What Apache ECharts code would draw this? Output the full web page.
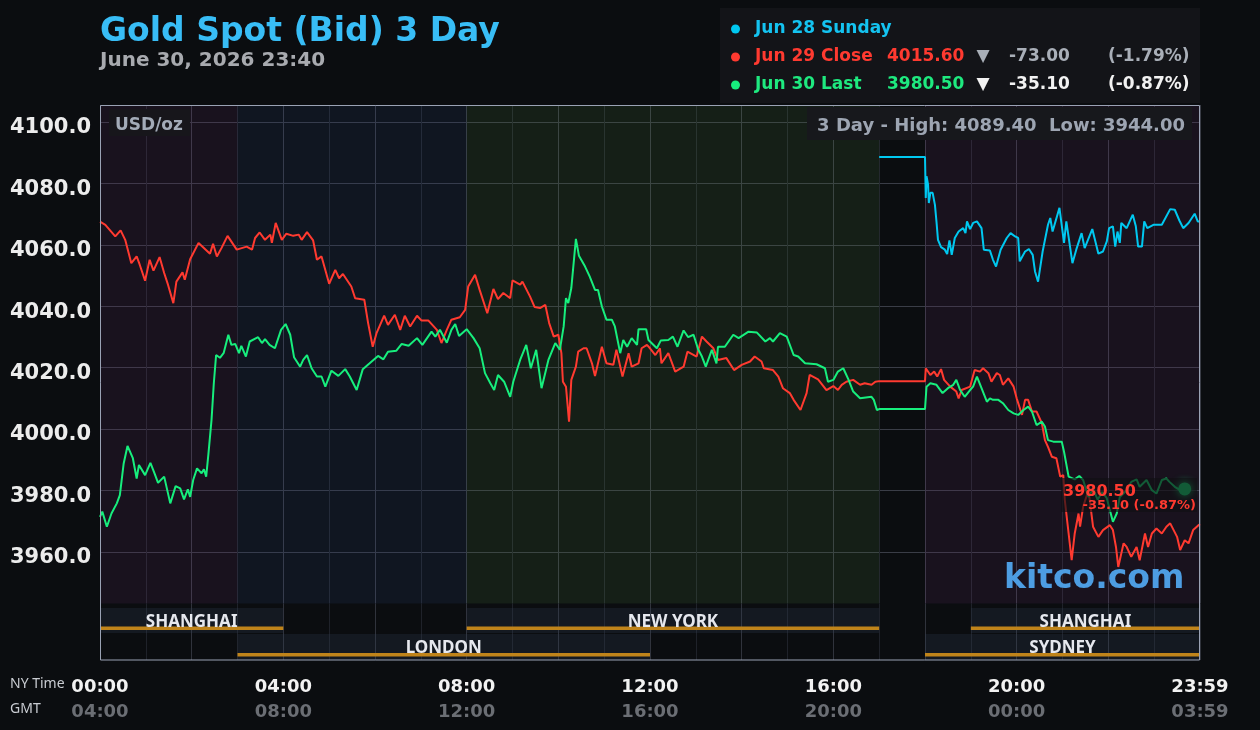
<!DOCTYPE html>
<html>
<head>
<meta charset="utf-8">
<title>Gold Spot (Bid) 3 Day</title>
<script src="https://cdn.jsdelivr.net/npm/echarts@6/dist/echarts.min.js"></script>
<style>
html, body { margin: 0; padding: 0; background: #0b0d10; }
#chart { width: 1260px; height: 730px; }
</style>
</head>
<body>
<div id="chart"></div>
<script>
// time = minutes after 00:00 NY time, price = USD/oz
var sunTime = [1020,1080,1081,1082,1084,1085,1087,1090,1093,1095,
  1097,1101,1106,1109,1112,1115,1119,1124,1130,1133,
  1135,1139,1143,1148,1154,1157,1165,1169,1173,1179,
  1187,1192,1198,1202,1204,1211,1216,1221,1224,1228,
  1234,1241,1244,1247,1256,1262,1265,1273,1278,1285,
  1289,1299,1307,1313,1318,1321,1326,1329,1332,1335,
  1337,1344,1352,1356,1359,1364,1367,1371,1379,1390,
  1401,1407,1413,1418,1425,1433,1437,1440];
var sunPrice = [4088.6,4088.6,4075.2,4082.3,4079.6,4073.6,4076.9,4076.9,4073.0,4067.6,
  4061.6,4059.2,4058.4,4057.0,4061.4,4056.7,4062.2,4064.3,4065.4,4063.8,
  4067.6,4065.1,4067.1,4067.6,4065.4,4058.4,4058.1,4055.1,4052.9,4058.4,
  4062.2,4063.8,4062.7,4062.2,4054.6,4057.8,4058.6,4056.7,4051.3,4048.0,
  4057.8,4066.5,4068.7,4064.3,4072.0,4060.6,4067.6,4054.0,4058.4,4063.8,
  4058.9,4065.1,4057.1,4057.8,4061.1,4065.4,4066.0,4059.4,4064.3,4060.6,
  4067.1,4065.4,4069.8,4066.0,4059.4,4059.4,4067.6,4065.4,4066.5,4066.5,
  4071.6,4071.4,4067.9,4065.4,4067.1,4070.1,4067.6,4067.6];

var closeTime = [0,7,20,27,33,41,48,52,59,65,
  70,78,84,89,96,100,108,111,118,129,
  144,148,153,159,167,179,192,199,203,209,
  216,223,225,230,238,244,253,260,264,271,
  279,284,290,300,308,313,318,329,334,346,
  351,357,362,372,377,386,393,399,406,415,
  421,430,441,447,454,460,471,478,482,491,
  497,507,515,521,528,537,540,550,553,563,
  569,576,583,588,594,600,604,606,610,614,
  617,623,626,633,637,644,648,657,663,672,
  676,684,692,696,705,709,716,720,727,733,
  735,744,753,764,769,781,788,794,803,809,
  820,830,840,851,857,866,869,881,888,894,
  903,908,917,925,929,940,951,960,966,971,
  977,986,995,1001,1010,1015,1020,1080,1081,1087,
  1092,1096,1101,1105,1113,1121,1124,1128,1139,1145,
  1152,1156,1163,1167,1174,1178,1182,1189,1196,1200,
  1207,1211,1215,1220,1226,1233,1237,1241,1246,1252,
  1257,1261,1263,1268,1272,1276,1281,1283,1287,1294,
  1300,1307,1313,1322,1326,1330,1333,1340,1344,1350,
  1357,1361,1368,1372,1377,1383,1390,1396,1401,1410,
  1414,1420,1425,1431,1438,1440];
var closePrice = [4067.5,4066.5,4062.7,4064.7,4061.6,4054.0,4056.2,4053.5,4048.3,4055.1,
  4051.6,4056.0,4050.8,4047.0,4041.0,4048.0,4051.0,4048.6,4055.3,4060.6,
  4057.1,4060.3,4056.2,4058.9,4062.9,4058.4,4059.4,4058.4,4062.2,4064.0,
  4061.6,4063.3,4060.6,4067.1,4061.6,4063.6,4062.9,4063.3,4061.6,4064.1,
  4061.4,4055.1,4056.2,4047.3,4051.8,4049.1,4050.5,4046.4,4042.6,4042.1,
  4034.5,4026.8,4031.2,4036.9,4033.9,4037.2,4032.3,4036.9,4033.4,4036.9,
  4035.3,4035.3,4032.3,4028.0,4032.3,4035.6,4036.4,4038.8,4046.4,4050.2,
  4045.3,4037.7,4045.6,4042.3,4044.3,4042.6,4048.4,4047.0,4048.0,4043.1,
  4039.7,4039.4,4040.4,4034.5,4030.1,4030.7,4024.7,4015.4,4013.8,4002.4,
  4016.0,4020.3,4025.2,4026.3,4026.3,4021.4,4017.3,4026.8,4021.4,4020.9,
  4025.8,4017.1,4024.7,4020.3,4021.4,4026.3,4027.4,4026.3,4024.1,4026.3,
  4021.4,4024.7,4018.7,4020.3,4025.2,4023.6,4030.1,4028.5,4026.3,4022.5,
  4023.1,4019.2,4020.9,4022.0,4023.6,4022.0,4019.8,4019.2,4017.1,4013.3,
  4011.7,4009.5,4006.2,4011.7,4017.6,4016.2,4012.7,4014.0,4012.7,4014.4,
  4015.4,4016.0,4014.4,4014.9,4014.4,4015.4,4015.6,4015.6,4019.8,4017.6,
  4018.7,4017.1,4019.5,4016.0,4013.8,4012.2,4010.0,4012.7,4013.8,4019.2,
  4018.7,4019.8,4018.2,4015.4,4018.2,4017.6,4014.4,4016.5,4013.8,4010.0,
  4004.6,4009.5,4009.5,4005.7,4005.7,4001.9,3996.4,3994.2,3991.0,3990.5,
  3984.5,3985.0,3976.9,3966.0,3957.3,3966.0,3972.5,3968.2,3974.7,3980.1,
  3968.2,3964.9,3967.1,3968.7,3967.1,3961.6,3955.1,3962.8,3961.6,3958.4,
  3961.6,3957.3,3966.0,3961.6,3966.0,3967.6,3966.0,3968.2,3969.3,3964.9,
  3960.6,3963.8,3962.8,3967.1,3968.7,3969.0];

var lastTime = [0,3,9,15,22,26,31,36,43,48,
  51,59,66,71,76,84,92,99,105,110,
  115,118,122,127,133,136,139,142,146,149,
  152,157,162,168,172,177,182,185,191,196,
  207,212,216,222,229,237,243,249,254,262,
  266,271,277,284,290,295,303,312,321,327,
  336,344,353,364,371,377,388,395,404,415,
  422,434,439,445,454,460,465,470,480,489,
  497,504,511,516,521,529,537,541,550,558,
  564,571,578,587,596,602,607,610,613,617,
  623,627,635,641,648,652,657,663,670,674,
  681,685,690,696,703,705,715,718,729,734,
  744,750,756,764,770,777,783,788,793,801,
  807,809,818,829,836,849,860,871,877,881,
  890,899,908,914,923,938,949,953,960,966,
  973,980,986,995,1010,1013,1017,1020,1080,1082,
  1087,1095,1103,1110,1117,1121,1126,1132,1139,1143,
  1148,1154,1161,1165,1169,1176,1182,1189,1196,1202,
  1209,1215,1220,1226,1233,1237,1241,1248,1259,1262,
  1268,1270,1276,1282,1287,1294,1300,1306,1312,1318,
  1322,1326,1331,1335,1344,1350,1357,1361,1370,1377,
  1383,1390,1396,1400,1407,1414,1420];
var lastPrice = [3971.4,3973.1,3968.2,3972.5,3975.8,3978.5,3988.8,3994.5,3990.5,3983.9,
  3988.3,3985.0,3989.0,3985.8,3982.5,3984.5,3975.8,3981.4,3980.7,3977.1,
  3980.4,3977.9,3983.4,3987.2,3985.6,3986.9,3984.5,3992.1,4003.0,4014.9,
  4024.1,4023.2,4024.8,4030.7,4027.4,4027.7,4024.7,4027.1,4023.6,4028.5,
  4029.9,4028.0,4029.3,4027.4,4026.3,4032.3,4034.2,4030.7,4023.4,4020.3,
  4022.5,4024.1,4019.8,4017.1,4017.1,4013.8,4019.0,4017.3,4019.5,4017.1,
  4012.7,4019.5,4021.4,4023.8,4022.7,4025.2,4025.5,4027.7,4027.1,4029.6,
  4027.4,4031.7,4030.1,4032.3,4028.1,4032.3,4034.2,4030.3,4032.5,4029.6,
  4026.3,4018.2,4014.9,4012.7,4017.6,4015.4,4010.5,4015.4,4022.5,4027.4,
  4019.8,4025.8,4013.3,4022.5,4028.0,4025.8,4033.4,4042.6,4041.0,4045.9,
  4061.9,4056.4,4052.9,4049.7,4045.3,4045.3,4039.9,4035.6,4035.6,4033.4,
  4024.7,4029.0,4026.8,4029.6,4027.4,4032.5,4032.5,4029.0,4026.3,4028.8,
  4029.0,4030.1,4026.8,4032.1,4029.9,4030.7,4026.0,4023.6,4020.3,4025.8,
  4021.4,4026.8,4026.8,4030.7,4029.6,4031.7,4031.4,4028.5,4029.6,4028.5,
  4031.2,4030.1,4024.1,4023.6,4021.4,4021.1,4019.8,4015.4,4016.0,4018.7,
  4019.8,4016.0,4012.2,4010.0,4010.5,4009.5,4006.2,4006.5,4006.5,4013.8,
  4014.9,4014.4,4011.7,4013.3,4014.4,4016.0,4012.7,4010.5,4012.7,4013.8,
  4017.1,4013.3,4008.9,4010.0,4009.5,4009.5,4008.4,4006.2,4005.1,4004.6,
  4006.2,4007.3,4005.7,4001.3,4002.4,4000.8,3996.4,3995.9,3995.9,3992.6,
  3984.5,3983.9,3983.6,3984.7,3983.4,3977.9,3980.5,3977.0,3979.5,3977.5,
  3973.6,3969.8,3972.5,3977.9,3980.1,3982.8,3983.6,3981.2,3983.4,3980.1,
  3979.0,3983.4,3983.9,3982.8,3981.2,3980.1,3980.5];

// trading session shading behind the lines
var sessStart = [0, 180, 480, 1080];
var sessEnd = [180, 480, 1020, 1440];
var sessColor = ['rgba(86,38,91,0.2)', 'rgba(41,58,106,0.2)', 'rgba(66,103,56,0.2)', 'rgba(86,38,91,0.2)'];

// market bands under the chart
var bandName = ['SHANGHAI', 'LONDON', 'NEW YORK', 'SHANGHAI', 'SYDNEY'];
var bandStart = [0, 180, 480, 1140, 1080];
var bandEnd = [240, 720, 1020, 1440, 1440];
var bandRow = [0, 1, 0, 0, 1];

var cyan = '#00c8f0', red = '#ff3a30', green = '#17ee7d';
var font = '"DejaVu Sans", sans-serif';

function pairs(t, p) {
    return t.map(function (m, i) { return [m, p[i]]; });
}
function pad(n) { return (n < 10 ? '0' : '') + n; }
function txt(x, y, s, size, color, align) {
    return {
        type: 'text', z: 100, silent: true,
        style: { x: x, y: y, text: s, fill: color, align: align || 'left', verticalAlign: 'middle',
            font: 'bold ' + size + 'px ' + font }
    };
}

var chart = echarts.init(document.getElementById('chart'));

var option = {
    animation: false,
    backgroundColor: '#0b0d10',
    title: {
        text: 'Gold Spot (Bid) 3 Day',
        subtext: 'June 30, 2026 23:40',
        left: 100, top: 14, padding: 0, itemGap: 0,
        textStyle: { fontFamily: font, fontSize: 33, fontWeight: 'bold', color: '#38bdf6', lineHeight: 36 },
        subtextStyle: { fontFamily: font, fontSize: 20, fontWeight: 'bold', color: '#a8aaaf', lineHeight: 22 }
    },
    legend: {
        orient: 'vertical', left: 731, top: 20, padding: 0, itemGap: 10,
        icon: 'circle', itemWidth: 9, itemHeight: 9, selectedMode: false,
        textStyle: { fontFamily: font, fontSize: 17, fontWeight: 'bold', lineHeight: 18, padding: [0, 0, 0, 10] },
        data: [
            { name: 'Jun 28 Sunday', textStyle: { color: '#14c3f0' } },
            { name: 'Jun 29 Close', textStyle: { color: red } },
            { name: 'Jun 30 Last', textStyle: { color: '#1ee97f' } }
        ]
    },
    grid: [
        { left: 100, top: 105, width: 1100, height: 498.5 },
        { left: 100, top: 603.5, width: 1100, height: 56.5 }
    ],
    xAxis: [{
        gridIndex: 0, type: 'value', min: 0, max: 1440, interval: 60,
        axisLine: { show: false }, axisTick: { show: false }, axisLabel: { show: false },
        splitLine: { lineStyle: { color: ['#3a3d47', '#24272f'], width: 1 } }
    }, {
        gridIndex: 1, type: 'value', min: 0, max: 1440, interval: 60,
        axisLine: { show: false }, axisTick: { show: false },
        splitLine: { lineStyle: { color: ['#30333c', '#1f222a'], width: 1 } },
        axisLabel: {
            margin: 15,
            formatter: function (v) {
                if (v % 240 !== 0) return '';
                var h = v / 60;
                if (v === 1440) return '{a|23:59}\n{b|03:59}';
                return '{a|' + pad(h) + ':00}\n{b|' + pad((h + 4) % 24) + ':00}';
            },
            rich: {
                a: { fontFamily: font, fontSize: 18, fontWeight: 'bold', color: '#f2f2f2', lineHeight: 25 },
                b: { fontFamily: font, fontSize: 18, fontWeight: 'bold', color: '#6b6e74', lineHeight: 25 }
            }
        }
    }],
    yAxis: [{
        gridIndex: 0, type: 'value', min: 3943.2, max: 4105.5,
        splitNumber: 8, minInterval: 20, maxInterval: 20,
        axisLine: { show: false }, axisTick: { show: false },
        axisLabel: {
            margin: 9, showMinLabel: false, showMaxLabel: false,
            fontFamily: font, fontSize: 21, fontWeight: 'bold', color: '#ececec',
            verticalAlign: 'top', lineHeight: 12,
            formatter: function (v) { return v.toFixed(1); }
        },
        splitLine: { showMinLine: false, showMaxLine: false, lineStyle: { color: '#3a3d47', width: 1 } }
    }, {
        gridIndex: 1, type: 'value', min: 0, max: 56.5, inverse: true, show: false
    }],
    series: [{
        name: 'Jun 28 Sunday', type: 'line', xAxisIndex: 0, yAxisIndex: 0,
        data: pairs(sunTime, sunPrice), showSymbol: false, color: cyan,
        lineStyle: { width: 2, color: cyan },
        markArea: {
            silent: true,
            data: sessStart.map(function (s, i) {
                return [{ xAxis: s, itemStyle: { color: sessColor[i] } }, { xAxis: sessEnd[i] }];
            })
        }
    }, {
        name: 'Jun 29 Close', type: 'line', xAxisIndex: 0, yAxisIndex: 0,
        data: pairs(closeTime, closePrice), showSymbol: false, color: red,
        lineStyle: { width: 2, color: red }
    }, {
        name: 'Jun 30 Last', type: 'line', xAxisIndex: 0, yAxisIndex: 0,
        data: pairs(lastTime, lastPrice), showSymbol: false, color: green,
        lineStyle: { width: 2, color: green },
        markPoint: {
            silent: true, symbol: 'circle', symbolSize: 13,
            itemStyle: { color: green, shadowBlur: 8, shadowColor: green },
            label: { show: false },
            data: [{ coord: [lastTime[lastTime.length - 1], lastPrice[lastPrice.length - 1]] }]
        }
    }, {
        type: 'custom', xAxisIndex: 1, yAxisIndex: 1, silent: true,
        data: bandStart.map(function (s, i) { return [s, bandEnd[i], bandRow[i]]; }),
        renderItem: function (params, api) {
            var r = api.value(2);
            var top = r === 0 ? 4.5 : 30.5;
            var bot = r === 0 ? 29.5 : 56.5;
            var p0 = api.coord([api.value(0), top]);
            var p1 = api.coord([api.value(1), bot]);
            var barTop = p1[1] - (r === 0 ? 6.5 : 7);
            return {
                type: 'group',
                children: [{
                    type: 'rect',
                    shape: { x: p0[0], y: p0[1], width: p1[0] - p0[0], height: p1[1] - p0[1] },
                    style: { fill: 'rgba(48,62,85,0.25)' }
                }, {
                    type: 'rect',
                    shape: { x: p0[0], y: barTop, width: p1[0] - p0[0], height: 3.4 },
                    style: { fill: '#c0841a' }
                }, {
                    type: 'text',
                    style: {
                        x: (p0[0] + p1[0]) / 2, y: barTop - 4.8, text: bandName[params.dataIndex],
                        align: 'center', verticalAlign: 'middle',
                        font: 'bold 17px "Noto Sans", sans-serif', fill: '#e6e8ee'
                    }
                }]
            };
        }
    }],
    graphic: [
        // legend panel
        { type: 'rect', z: 1, silent: true, shape: { x: 720, y: 8, width: 480, height: 95 }, style: { fill: '#131418' } },
        txt(887, 57, '4015.60', 17, red),
        txt(983, 57, '▼', 17, '#a9afb8', 'center'),
        txt(1009, 57, '-73.00', 17, '#a9afb8'),
        txt(1108, 57, '(-1.79%)', 17, '#a9afb8'),
        txt(887, 85, '3980.50', 17, '#1ee97f'),
        txt(983, 85, '▼', 17, '#f2f2f2', 'center'),
        txt(1009, 85, '-35.10', 17, '#f2f2f2'),
        txt(1108, 85, '(-0.87%)', 17, '#f2f2f2'),
        // unit and range boxes
        { type: 'rect', z: 90, silent: true, shape: { x: 109, y: 109, width: 81, height: 27 }, style: { fill: '#17161b' } },
        txt(115, 126, 'USD/oz', 17, '#a3abb8'),
        { type: 'rect', z: 90, silent: true, shape: { x: 807, y: 107, width: 385, height: 33 }, style: { fill: '#17181c' } },
        txt(1185, 126, '3 Day - High: 4089.40  Low: 3944.00', 18, '#9da5b2', 'right'),
        // last price tag
        { type: 'rect', z: 95, silent: true, shape: { x: 1061, y: 478, width: 136, height: 34 }, style: { fill: 'rgba(16,15,20,0.66)' } },
        txt(1063, 492, '3980.50', 16, red),
        txt(1196, 506, '-35.10 (-0.87%)', 13, red, 'right'),
        // watermark
        txt(1004, 579, 'kitco.com', 33, '#4d9de2'),
        // frame
        { type: 'rect', z: 110, silent: true, shape: { x: 100.5, y: 105.5, width: 1099, height: 554.5 },
          style: { fill: 'none', stroke: '#9aa2b4', lineWidth: 1 } },
        // axis captions
        { type: 'text', z: 100, silent: true, style: { x: 10, y: 684, text: 'NY Time', fill: '#c9ccd2',
            verticalAlign: 'middle', font: '14px "Noto Sans", sans-serif' } },
        { type: 'text', z: 100, silent: true, style: { x: 10, y: 709, text: 'GMT', fill: '#c9ccd2',
            verticalAlign: 'middle', font: '14px "Noto Sans", sans-serif' } }
    ]
};

chart.setOption(option);
</script>
</body>
</html>
